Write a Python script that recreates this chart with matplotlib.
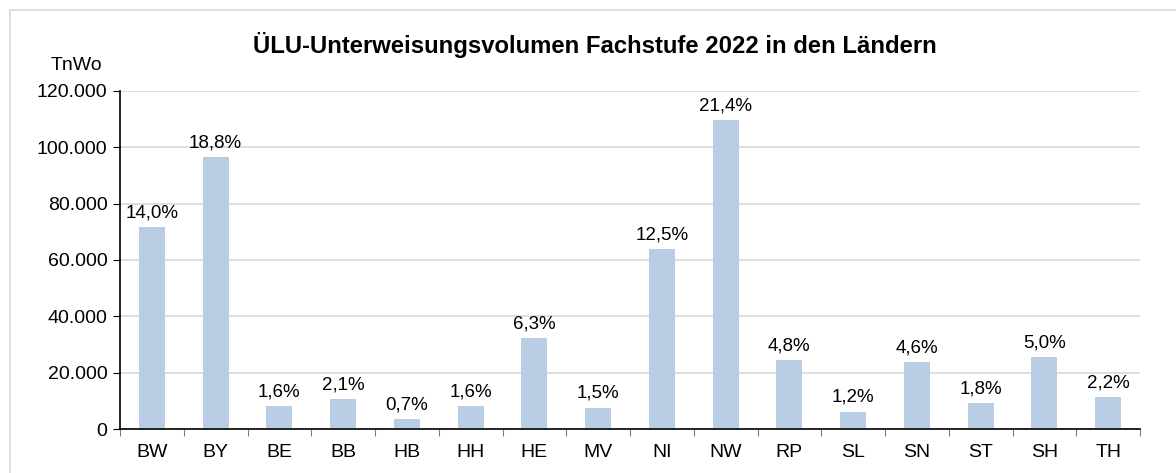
import matplotlib.pyplot as plt
from matplotlib.lines import Line2D

laender = ["BW", "BY", "BE", "BB", "HB", "HH", "HE", "MV", "NI", "NW", "RP", "SL", "SN", "ST", "SH", "TH"]
volumen = [71700, 96400, 8200, 10700, 3500, 8200, 32300, 7600, 63900, 109600, 24500, 6200, 23700, 9200, 25600, 11200]
anteil = ["14,0%", "18,8%", "1,6%", "2,1%", "0,7%", "1,6%", "6,3%", "1,5%", "12,5%", "21,4%",
          "4,8%", "1,2%", "4,6%", "1,8%", "5,0%", "2,2%"]
y_ticks = [0, 20000, 40000, 60000, 80000, 100000, 120000]

plt.rcParams["font.family"] = ["Liberation Sans", "DejaVu Sans"]

fig = plt.figure(figsize=(11.76, 4.73), dpi=100)
ax = fig.add_axes([120 / 1176, 1 - 429 / 473, 1020 / 1176, 338 / 473])

x = list(range(len(laender)))
ax.bar(x, volumen, width=0.41, color="#B9CDE5", zorder=2)
for xi, v, t in zip(x, volumen, anteil):
    ax.text(xi, v + 2000, t, ha="center", va="bottom", fontsize=13.5)

ax.set_xlim(-0.5, len(laender) - 0.5)
ax.set_ylim(0, 120000)
ax.set_yticks(y_ticks)
ax.set_yticklabels([f"{v:,}".replace(",", ".") for v in y_ticks], fontsize=14)
ax.yaxis.grid(True, color="#D9D9D9", linewidth=1.2, zorder=0)
ax.set_axisbelow(True)

# Kategorien-Beschriftung mittig, Tick-Striche zwischen den Balken
ax.set_xticks([i - 0.5 for i in range(len(laender) + 1)])
ax.set_xticklabels([])
ax.set_xticks(x, minor=True)
ax.set_xticklabels(laender, minor=True, fontsize=14)
ax.tick_params(axis="x", which="major", direction="out", length=5, color="#808080")
ax.tick_params(axis="x", which="minor", length=0, pad=11)
ax.tick_params(axis="y", direction="out", length=5, pad=4)

for s in ["top", "right"]:
    ax.spines[s].set_visible(False)
ax.spines["left"].set_linewidth(1.2)
ax.spines["bottom"].set_linewidth(1.2)

fig.text(595 / 1176, 1 - 45 / 473, "ÜLU-Unterweisungsvolumen Fachstufe 2022 in den Ländern",
         ha="center", va="center", fontsize=17.2, fontweight="bold")
fig.text(102 / 1176, 1 - 65 / 473, "TnWo", ha="right", va="center", fontsize=14)

# Rahmen (oben und links sichtbar)
fig.add_artist(Line2D([10 / 1176, 1], [1 - 10 / 473, 1 - 10 / 473], color="#D9D9D9", linewidth=1.2))
fig.add_artist(Line2D([10 / 1176, 10 / 1176], [0, 1 - 10 / 473], color="#D9D9D9", linewidth=1.2))

plt.savefig("out.png", dpi=100)
